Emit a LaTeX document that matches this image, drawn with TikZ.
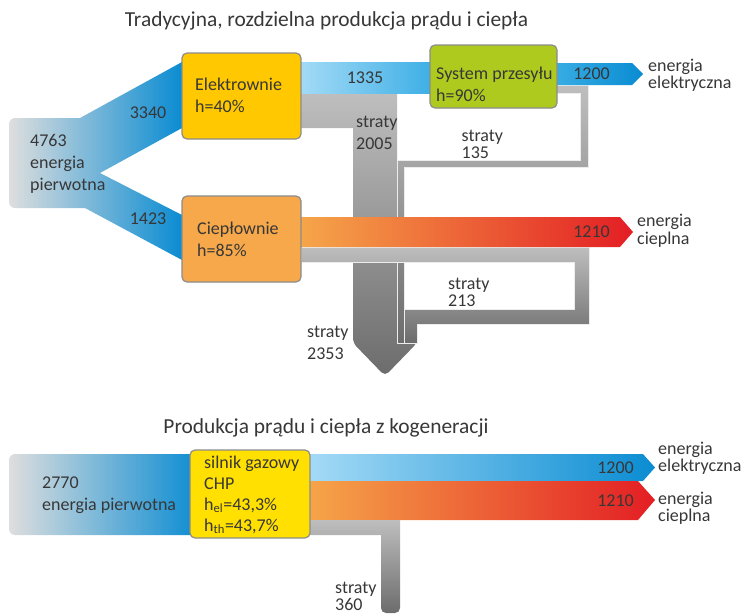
\documentclass[tikz,border=0pt]{standalone}
\usepackage{fontspec}
\setmainfont{Carlito}
\usepackage{xcolor}
\definecolor{enblue}{RGB}{10,140,210}
\definecolor{enskyblue}{RGB}{168,220,247}
\definecolor{enmidblue}{RGB}{58,174,229}
\definecolor{engrey}{RGB}{222,222,222}
\definecolor{engold}{RGB}{255,200,0}
\definecolor{enorange}{RGB}{246,168,74}
\definecolor{enred}{RGB}{227,30,36}
\definecolor{enlime}{RGB}{175,202,31}
\definecolor{enyellow}{RGB}{255,224,0}
\definecolor{enlossl}{RGB}{190,190,190}
\definecolor{enlossd}{RGB}{108,108,108}
\definecolor{entext}{RGB}{55,55,55}
\definecolor{enframe}{RGB}{140,140,140}

\begin{document}
\begin{tikzpicture}[x=1pt, y=-1pt,
  box/.style={rectangle, draw=enframe, line width=1.2pt, rounded corners=5pt, inner sep=0pt},
  lbl/.style={text=entext, inner sep=0pt, align=left, anchor=base west, font=\fontsize{18}{17.2}\selectfont},
  lblw/.style={lbl, font=\fontsize{18}{22}\selectfont},
  num/.style={text=entext, inner sep=0pt, font=\fontsize{18}{17}\selectfont},
  ttl/.style={text=entext, inner sep=0pt, anchor=base, font=\fontsize{21.4}{21}\selectfont},
  loss/.style={top color=enlossl, bottom color=enlossd},
  sep/.style={draw=white!85!gray, line width=0.6pt}]
\useasboundingbox (0,0) rectangle (744,614);

% --- tradycyjna produkcja ---
\node[ttl] (title1) at (326.5,26) {Tradycyjna, rozdzielna produkcja prądu i ciepła};

\path[left color=engrey, right color=enblue]
  (182,62) -- (80,118) [rounded corners=6] -- (9,118) -- (9,208) [sharp corners] -- (85,208)
  -- (182,260) -- (182,215) -- (100,173) -- (182,128) -- cycle;

% straty
\path[loss] (301,93) -- (397,93) -- (397,330) -- (417,330) [rounded corners=5] -- (417,343)
  -- (385,376) -- (353,343) [sharp corners] -- (353,128) -- (301,128) -- cycle;
\path[loss, sep] (550,85) -- (588,85) -- (588,167) -- (404,167) -- (404,343) -- (397,343)
  -- (397,160) -- (580,160) -- (580,93) -- (550,93) -- cycle;
\path[loss, sep] (301,247) -- (589,247) -- (589,324) -- (417,324) -- (417,343) -- (404,343)
  -- (404,309) -- (574,309) -- (574,262) -- (301,262) -- cycle;

% prad i cieplo
\path[left color=enskyblue, right color=enmidblue] (295,62) rectangle (435,93);
\path[left color=enmidblue, right color=enblue] (550,63) -- (632,63) -- (643,74) -- (632,85) -- (550,85) -- cycle;
\path[left color=enorange, right color=enred] (295,217) -- (620,217) -- (633,232) -- (620,247) -- (295,247) -- cycle;

\node[box, fill=engold, minimum width=119, minimum height=86] (elektr) at (241.5,96) {};
\node[box, fill=enorange, minimum width=119, minimum height=86] (cieplo) at (241.5,239) {};
\node[box, fill=enlime, minimum width=127, minimum height=63] (przesyl) at (493.5,76.5) {};

\node[lblw] (elektrtxt) at (195,112.5) {Elektrownie\\h=40\%};
\node[lblw] (cieplotxt) at (197,256.5) {Ciepłownie\\h=85\%};
\node[lblw] (przesyltxt) at (436,101.7) {System przesyłu\\h=90\%};
\node[lblw] (zrodlo1) at (30,190) {4763\\energia\\pierwotna};

\node[num] (n3340) at (148,113) {3340};
\node[num] (n1423) at (148,219) {1423};
\node[num] (n1335) at (365,78) {1335};
\node[num] (n1200a) at (591.5,74) {1200};
\node[num] (n1210a) at (591.5,232) {1210};

\node[lbl] (elout1) at (648,88.3) {energia\\elektryczna};
\node[lbl] (thout1) at (637,244) {energia\\cieplna};
\node[lblw] (s2005) at (356,149) {straty\\2005};
\node[lbl] (s135) at (461.5,158.3) {straty\\135};
\node[lbl] (s213) at (448,306.7) {straty\\213};
\node[lblw] (s2353) at (307,359.3) {straty\\2353};

% --- kogeneracja ---
\node[ttl] (title2) at (326,433) {Produkcja prądu i ciepła z kogeneracji};

\path[left color=engrey, right color=enblue, rounded corners=6] (9,454) rectangle (200,535);
\path[left color=enskyblue, right color=enblue] (300,454) -- (643,454) -- (655,467.5) -- (643,481) -- (300,481) -- cycle;
\path[left color=enorange, right color=enred] (300,481) -- (638,481) -- (655,500) -- (638,520) -- (300,520) -- cycle;
\path[loss] (300,520) -- (400,520) [rounded corners=5] -- (400,613) -- (381,613) [sharp corners]
  -- (381,535) -- (300,535) -- cycle;

\node[box, fill=enyellow, minimum width=120, minimum height=88] (chp) at (250,494) {};
\node[lbl, font=\fontsize{18}{21}\selectfont] (chptxt) at (204,531)
  {silnik gazowy\\CHP\\h\textsubscript{el}=43,3\%\\h\textsubscript{th}=43,7\%};
\node[lblw] (zrodlo2) at (42,510) {2770\\energia pierwotna};

\node[num] (n1200b) at (615.5,468) {1200};
\node[num] (n1210b) at (615.5,501) {1210};
\node[lbl] (elout2) at (658,471.7) {energia\\elektryczna};
\node[lbl] (thout2) at (658,521.7) {energia\\cieplna};
\node[lbl] (s360) at (335,610.5) {straty\\360};
\end{tikzpicture}
\end{document}
